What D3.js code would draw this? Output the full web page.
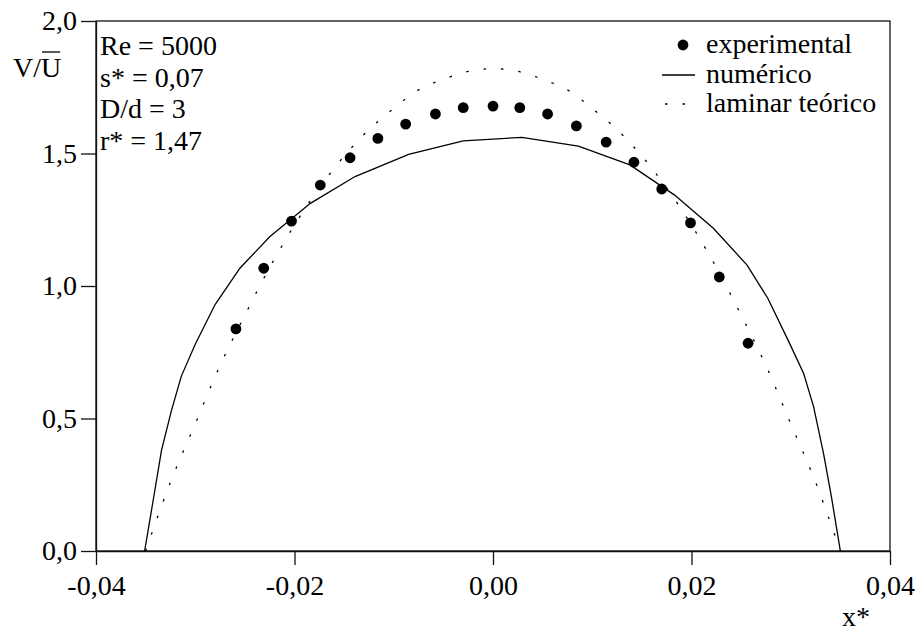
<!DOCTYPE html>
<html>
<head>
<meta charset="utf-8">
<script src="https://cdn.jsdelivr.net/npm/d3@7/dist/d3.min.js"></script>
<style>
  html, body { margin: 0; padding: 0; background: #fff; }
  svg { display: block; font-family: "Liberation Serif", "Times New Roman", serif; }
</style>
</head>
<body>
<svg id="chart" width="920" height="633"></svg>
<script>
// Experimental velocity profile (x*, V/Ū)
const expX = [-0.0259, -0.0231, -0.0203, -0.0174, -0.0144, -0.0116, -0.0088, -0.0058, -0.0030, 0.0000,
              0.0027, 0.0055, 0.0084, 0.0114, 0.0142, 0.0170, 0.0199, 0.0228, 0.0257];
const expV = [0.838, 1.067, 1.245, 1.381, 1.484, 1.557, 1.611, 1.649, 1.673, 1.679,
              1.673, 1.649, 1.604, 1.543, 1.467, 1.366, 1.238, 1.034, 0.784];

// Numerical solution
const numX = [-0.0351, -0.0342, -0.0334, -0.0324, -0.0314, -0.0300, -0.0280, -0.0255, -0.0225, -0.0184,
              -0.0139, -0.0085, -0.0030, 0.0029, 0.0086, 0.0138, 0.0183, 0.0222, 0.0256, 0.0277,
              0.0298, 0.0313, 0.0323, 0.0333, 0.0341, 0.0350];
const numV = [0.00, 0.20, 0.38, 0.53, 0.66, 0.78, 0.93, 1.067, 1.186, 1.312,
              1.413, 1.497, 1.548, 1.561, 1.528, 1.457, 1.343, 1.218, 1.079, 0.953,
              0.790, 0.670, 0.545, 0.368, 0.204, 0.00];

// Theoretical laminar profile
const lamX = [-0.0350, -0.0325, -0.0300, -0.0275, -0.0250, -0.0225, -0.0200, -0.0175, -0.0150, -0.0125,
              -0.0100, -0.0075, -0.0050, -0.0025, 0.0000, 0.0025, 0.0050, 0.0075, 0.0100, 0.0125,
              0.0150, 0.0175, 0.0200, 0.0225, 0.0250, 0.0275, 0.0300, 0.0325, 0.0350];
const lamV = [0.00, 0.26, 0.48, 0.70, 0.89, 1.07, 1.23, 1.37, 1.49, 1.59,
              1.67, 1.74, 1.78, 1.81, 1.82, 1.81, 1.78, 1.74, 1.67, 1.59,
              1.49, 1.37, 1.23, 1.07, 0.89, 0.70, 0.48, 0.26, 0.00];

const xTicks = [-0.04, -0.02, 0.00, 0.02, 0.04];
const yTicks = [0.0, 0.5, 1.0, 1.5, 2.0];

const annotations = ["Re = 5000", "s* = 0,07", "D/d = 3", "r* = 1,47"];
const legendLabels = ["experimental", "numérico", "laminar teórico"];

const FONT = 28;
const svg = d3.select("#chart");
const plotL = 96, plotR = 890, plotT = 21, plotB = 551;

const x = d3.scaleLinear().domain([-0.04, 0.04]).range([plotL, plotR]);
const y = d3.scaleLinear().domain([0, 2]).range([plotB, plotT]);

const loc = d3.formatLocale({decimal: ",", thousands: ".", grouping: [3], currency: ["", ""], minus: "-"});
const fx = loc.format(".2f"), fy = loc.format(".1f");

// Axes
const gx = svg.append("g").attr("transform", `translate(0,${plotB})`)
  .call(d3.axisBottom(x).tickValues(xTicks).tickFormat(fx).tickSize(14).tickSizeOuter(0).tickPadding(10));
const gy = svg.append("g").attr("transform", `translate(${plotL},0)`)
  .call(d3.axisLeft(y).tickValues(yTicks).tickFormat(fy).tickSize(15).tickSizeOuter(0).tickPadding(4));
[gx, gy].forEach(g => {
  g.selectAll("text").attr("font-size", FONT).attr("font-family", "Liberation Serif").attr("fill", "#000");
  g.selectAll("line").attr("stroke", "#111").attr("stroke-width", 1.3);
  g.select(".domain").attr("stroke", "#111").attr("stroke-width", 1.3);
});

// Frame
svg.append("rect").attr("x", plotL).attr("y", plotT).attr("width", plotR - plotL).attr("height", plotB - plotT)
  .attr("fill", "none").attr("stroke", "#111").attr("stroke-width", 1.3);

// Axis titles: V over mean U (bar drawn as a thin rule above the U)
const yl = svg.append("text").attr("x", 13).attr("y", 77).attr("font-size", FONT);
yl.append("tspan").text("V/");
yl.append("tspan").text("U");
let ux0 = 43, ux1 = 58;
try {
  const s = yl.node().getExtentOfChar(2);
  ux0 = s.x + 1; ux1 = s.x + s.width - 1;
} catch (e) {}
svg.append("line").attr("x1", ux0).attr("x2", ux1).attr("y1", 52).attr("y2", 52)
  .attr("stroke", "#000").attr("stroke-width", 1.3);
svg.append("text").attr("x", 856).attr("y", 626).attr("text-anchor", "middle").attr("font-size", FONT).text("x*");

// Laminar (dotted)
svg.append("path").datum(lamX.map((v, i) => [v, lamV[i]]))
  .attr("d", d3.line().curve(d3.curveCatmullRom).x(d => x(d[0])).y(d => y(d[1])))
  .attr("fill", "none").attr("stroke", "#000").attr("stroke-width", 1.3).attr("stroke-dasharray", "2.5,15");

// Numerical (solid)
svg.append("path").datum(numX.map((v, i) => [v, numV[i]]))
  .attr("d", d3.line().x(d => x(d[0])).y(d => y(d[1])))
  .attr("fill", "none").attr("stroke", "#000").attr("stroke-width", 1.3);

// Experimental points
svg.append("g").selectAll("circle").data(expX.map((v, i) => [v, expV[i]])).join("circle")
  .attr("cx", d => x(d[0])).attr("cy", d => y(d[1])).attr("r", 5.4).attr("fill", "#000");

// Parameter annotations
svg.append("g").selectAll("text").data(annotations).join("text")
  .attr("x", 100).attr("y", (d, i) => 55 + i * 31.7).attr("font-size", FONT).text(d => d);

// Legend
const lg = svg.append("g");
lg.append("circle").attr("cx", 683).attr("cy", 45).attr("r", 5.4).attr("fill", "#000");
lg.append("line").attr("x1", 662).attr("x2", 695).attr("y1", 75).attr("y2", 75)
  .attr("stroke", "#000").attr("stroke-width", 1.3);
lg.append("line").attr("x1", 665).attr("x2", 686).attr("y1", 104).attr("y2", 104)
  .attr("stroke", "#000").attr("stroke-width", 1.3).attr("stroke-dasharray", "2.5,15");
lg.selectAll("text.lbl").data(legendLabels).join("text").attr("class", "lbl")
  .attr("x", 706).attr("y", (d, i) => 53 + i * 29.5).attr("font-size", FONT).text(d => d);
</script>
</body>
</html>
